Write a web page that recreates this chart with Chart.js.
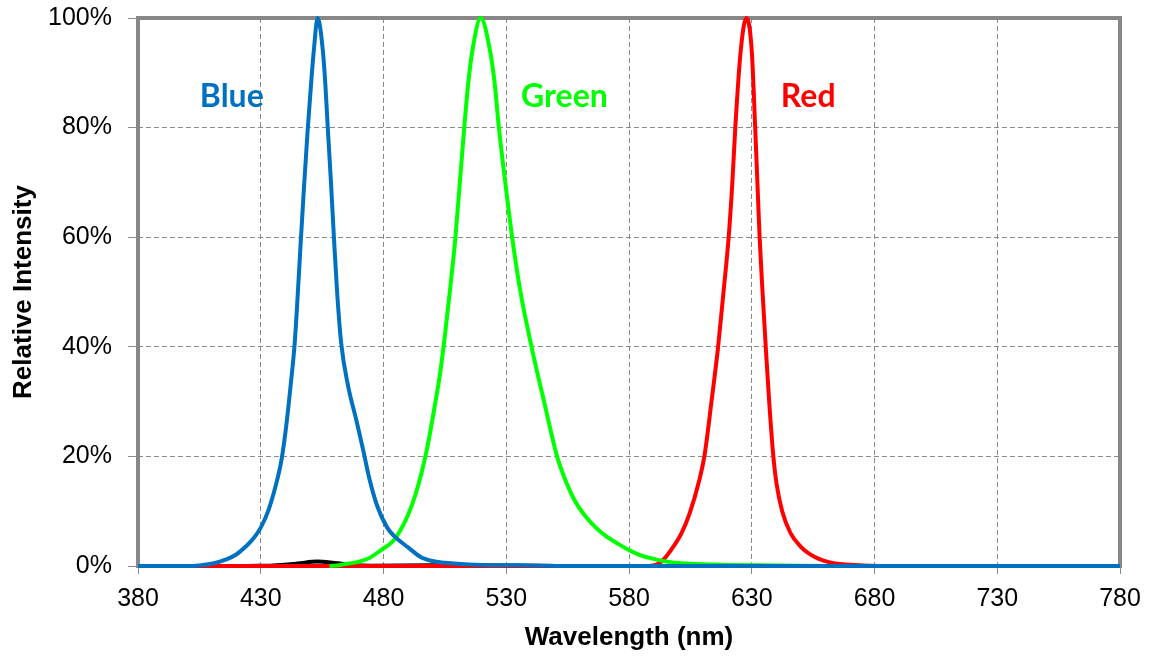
<!DOCTYPE html>
<html>
<head>
<meta charset="utf-8">
<script src="https://cdn.jsdelivr.net/npm/chart.js@4.4.0/dist/chart.umd.min.js"></script>
<style>
  body { margin: 0; background: #fff; }
  #spectrum { display: block; }
</style>
</head>
<body>
<canvas id="spectrum" width="1153" height="657"></canvas>
<script>
// emission spectra, wavelength in nm / relative intensity in %
var blueNm  = [380, 400, 405, 410, 416, 420, 424, 427, 430, 433, 436, 438.5, 440.5, 442.3, 443.8, 445, 446.2, 447.6, 449.1, 450.5, 451.6, 453.2,
               455.3, 456.3, 457.3, 458.6, 459.8, 461.1, 462.8, 465.5, 469, 471.8, 474.2, 477.4, 481.5, 484.5, 490, 495.3, 500, 505, 510, 520, 540, 560, 780];
var bluePct = [0, 0, 0.1, 0.4, 1.2, 2.1, 3.6, 5, 7, 10, 14.5, 19.5, 26, 33.5, 40.5, 49, 58.5, 69, 79.5, 88, 94, 100,
               94, 88, 80, 70, 60, 50, 40.5, 33, 26.5, 21, 16, 11, 7, 5.4, 3.4, 1.6, 0.9, 0.6, 0.4, 0.2, 0.1, 0, 0];

var greenNm  = [458, 462, 466, 470, 474, 479, 484, 487, 490, 493, 495.5, 498, 500.6, 503, 505, 507, 509.3, 511.1, 512.9, 514.5, 516.2, 519.6,
                523.4, 525.3, 527, 529.6, 532.4, 535.8, 540.3, 545.4, 550.7, 554.7, 557.8, 562, 566.5, 570.5, 575, 580.4, 584.5, 590, 597, 605, 620, 640, 660];
var greenPct = [0, 0.15, 0.45, 0.8, 1.4, 2.9, 4.6, 6.6, 9.3, 13, 17, 22, 28.5, 35, 42, 50, 60, 70, 80, 88, 94, 100,
                94, 88, 80, 70, 60, 50, 40, 30, 20, 15, 12, 9.2, 7, 5.5, 4.2, 2.8, 2, 1.3, 0.7, 0.4, 0.2, 0.1, 0];

var redNm  = [380, 588, 591.5, 594.5, 598, 601.3, 604.7, 608.6, 610.7, 613.6, 616.3, 618.5, 620.6, 622.1, 623.3, 625.5, 627.8,
              630, 631.4, 632.3, 633.2, 634.4, 635.7, 637.1, 638.8, 640.1, 642.4, 645.8, 650, 653.5, 657.3, 661.4, 667, 675, 690, 780];
var redPct = [0, 0, 0.3, 1.4, 3.5, 5.9, 9.6, 15.6, 20, 30, 40, 50, 60, 70, 80, 94, 100,
              94, 80, 70, 60, 50, 40, 30, 20, 15, 10, 6, 3.5, 2.2, 1.3, 0.7, 0.3, 0.1, 0, 0];

var blackNm  = [425, 435, 445, 453, 460, 467, 475, 500, 530, 550];
var blackPct = [0, 0.1, 0.45, 0.8, 0.55, 0.2, 0.05, 0.15, 0.1, 0];

var xTicks = [380, 430, 480, 530, 580, 630, 680, 730, 780];
var yTicks = [0, 20, 40, 60, 80, 100];

// text names drawn inside the plot
var channelNames  = ['Blue', 'Green', 'Red'];
var channelColors = ['#0070C0', '#00FF00', '#FF0000'];
var nameAtNm  = [418.2, 553.7, 653];
var nameAtPct = [83.8, 83.8, 83.8];

function toPoints(xs, ys) {
    var pts = [];
    for (var i = 0; i < xs.length; i++) pts.push({x: xs[i], y: ys[i]});
    return pts;
}

function lineSet(label, xs, ys, color) {
    return {
        label: label,
        data: toPoints(xs, ys),
        borderColor: color,
        borderWidth: 4,
        pointRadius: 0,
        fill: false,
        cubicInterpolationMode: 'monotone',
        clip: false
    };
}

// plot frame under the curves, names on top
const framePlugin = {
    id: 'framePlugin',
    beforeDatasetsDraw(chart) {
        const {ctx, chartArea: a} = chart;
        ctx.save();
        ctx.strokeStyle = '#878787';
        ctx.lineWidth = 4;
        ctx.strokeRect(a.left, a.top, a.right - a.left, a.bottom - a.top);
        ctx.restore();
    },
    afterDatasetsDraw(chart) {
        const {ctx, scales} = chart;
        ctx.save();
        ctx.font = 'bold 32px Lato';
        ctx.textAlign = 'center';
        ctx.textBaseline = 'alphabetic';
        for (var i = 0; i < channelNames.length; i++) {
            ctx.fillStyle = channelColors[i];
            ctx.fillText(channelNames[i], scales.x.getPixelForValue(nameAtNm[i]), scales.y.getPixelForValue(nameAtPct[i]));
        }
        ctx.restore();
    }
};

Chart.defaults.font.family = "'Liberation Sans', Arial, sans-serif";
Chart.defaults.color = '#000';

const ctx = document.getElementById('spectrum');

// blue on top, then green, red, black at the bottom
let chart = new Chart(ctx, {
    type: 'line',
    data: {
        datasets: [
            lineSet('Blue', blueNm, bluePct, '#0070C0'),
            lineSet('Green', greenNm, greenPct, '#00FF00'),
            lineSet('Red', redNm, redPct, '#FF0000'),
            lineSet('Black', blackNm, blackPct, '#000000')
        ]
    },
    options: {
        responsive: false,
        animation: false,
        layout: { padding: { top: 18, right: 33, bottom: 0, left: 0 } },
        plugins: {
            legend: { display: false },
            tooltip: { enabled: false }
        },
        scales: {
            x: {
                type: 'linear',
                min: xTicks[0],
                max: xTicks[xTicks.length - 1],
                afterBuildTicks: function(scale) {
                    scale.ticks = xTicks.map(function(v) { return {value: v}; });
                },
                afterFit: function(scale) {
                    scale.height = 91;
                    scale.paddingLeft = 0;
                    scale.paddingRight = 0;
                },
                grid: { color: '#8a8a8a', lineWidth: 1, tickLength: 8, tickColor: '#8a8a8a' },
                border: { display: false, dash: [5, 3] },
                ticks: { font: { size: 25 }, padding: 10, maxRotation: 0 },
                title: {
                    display: true,
                    text: 'Wavelength (nm)',
                    font: { size: 26, weight: 'bold' },
                    padding: { top: 0, bottom: 4 }
                }
            },
            y: {
                min: yTicks[0],
                max: yTicks[yTicks.length - 1],
                afterBuildTicks: function(scale) {
                    scale.ticks = yTicks.map(function(v) { return {value: v}; });
                },
                afterFit: function(scale) {
                    scale.width = 138;
                    scale.paddingTop = 0;
                    scale.paddingBottom = 0;
                },
                grid: { color: '#8a8a8a', lineWidth: 1, tickLength: 10, tickColor: '#8a8a8a' },
                border: { display: false, dash: [5, 3] },
                ticks: {
                    font: { size: 25 },
                    padding: 16,
                    callback: function(v) { return v + '%'; }
                },
                title: {
                    display: true,
                    text: 'Relative Intensity',
                    font: { size: 26, weight: 'bold' },
                    padding: { top: 8, bottom: 0 }
                }
            }
        }
    },
    plugins: [framePlugin]
});
</script>
</body>
</html>
